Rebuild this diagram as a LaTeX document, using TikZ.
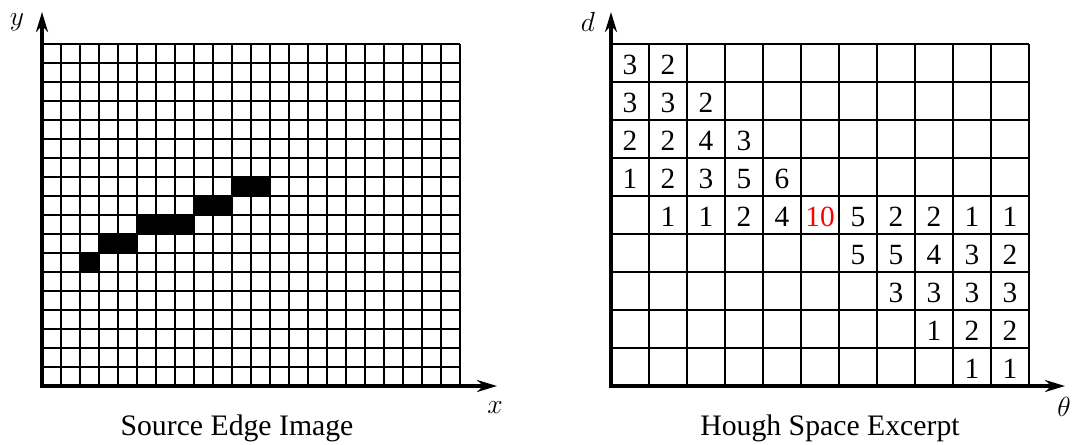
\documentclass[tikz,border=0pt]{standalone}
\usepackage{fontspec}
\setmainfont{Liberation Serif}
\usetikzlibrary{arrows.meta}
\begin{document}
\begin{tikzpicture}[x=0.75pt,y=-0.75pt,
  gridline/.style={line width=1.5pt,black},
  axisline/.style={line width=3pt,black,-{Stealth[length=15pt,width=9pt]}},
  pixel/.style={fill=black},
  cellnum/.style={anchor=base,inner sep=0pt,font=\fontsize{22}{22}\selectfont},
  hot/.style={text=red},
  caption/.style={anchor=base,inner sep=0pt,font=\fontsize{22.3}{22.3}\selectfont},
  axislabel/.style={inner sep=0pt,font=\fontsize{20}{20}\selectfont}]
\useasboundingbox (0,0) rectangle (1072,444);
% ---------- left: source edge image ----------
\begin{scope}[shift={(42,386)},x=14.25pt,y=14.25pt]
  % black pixels (col,row from bottom)
  \foreach \c/\r in {10/10,11/10,8/9,9/9,5/8,6/8,7/8,3/7,4/7,2/6}
    \fill[pixel] (\c,\r) rectangle ++(1,1);
  \draw[gridline] (0,0) grid[step=1] (22,18);
  \coordinate (lo) at (0,0);
\end{scope}
\coordinate (lyarrow) at (42,12);
\coordinate (lxarrow) at (497,386);
\draw[axisline] ([yshift=-1.5pt]lo) -- (lyarrow);
\draw[axisline] ([xshift=-1.5pt]lo) -- (lxarrow);
\node[axislabel] (ylab) at (17,22) {$y$};
\node[axislabel] (xlab) at (495,408) {$x$};
\node[caption] (lcap) at (237,435) {Source Edge Image};
% ---------- right: Hough space ----------
\begin{scope}[shift={(611,386)},x=28.5pt,y=28.5pt]
  \draw[gridline] (0,0) grid[step=1] (11,9);
  \coordinate (ro) at (0,0);
  % values: row index from top r -> y = 8-r
  \foreach \c/\r/\v in {0/0/3,1/0/2,
     0/1/3,1/1/3,2/1/2,
     0/2/2,1/2/2,2/2/4,3/2/3,
     0/3/1,1/3/2,2/3/3,3/3/5,4/3/6,
     1/4/1,2/4/1,3/4/2,4/4/4,6/4/5,7/4/2,8/4/2,9/4/1,10/4/1,
     6/5/5,7/5/5,8/5/4,9/5/3,10/5/2,
     7/6/3,8/6/3,9/6/3,10/6/3,
     8/7/1,9/7/2,10/7/2,
     9/8/1,10/8/1}
    \node[cellnum] (n\c-\r) at ({\c+0.5},{8-\r+0.2}) {\v};
  \node[cellnum,hot] (n5-4) at (5.5,{8-4+0.2}) {10};
\end{scope}
\coordinate (ryarrow) at (611,12);
\coordinate (rxarrow) at (1065,386);
\draw[axisline] ([yshift=-1.5pt]ro) -- (ryarrow);
\draw[axisline] ([xshift=-1.5pt]ro) -- (rxarrow);
\node[axislabel] (dlab) at (588,22) {$d$};
\node[axislabel] (tlab) at (1064,407) {$\theta$};
\node[caption] (rcap) at (830,435) {Hough Space Excerpt};
\end{tikzpicture}
\end{document}
